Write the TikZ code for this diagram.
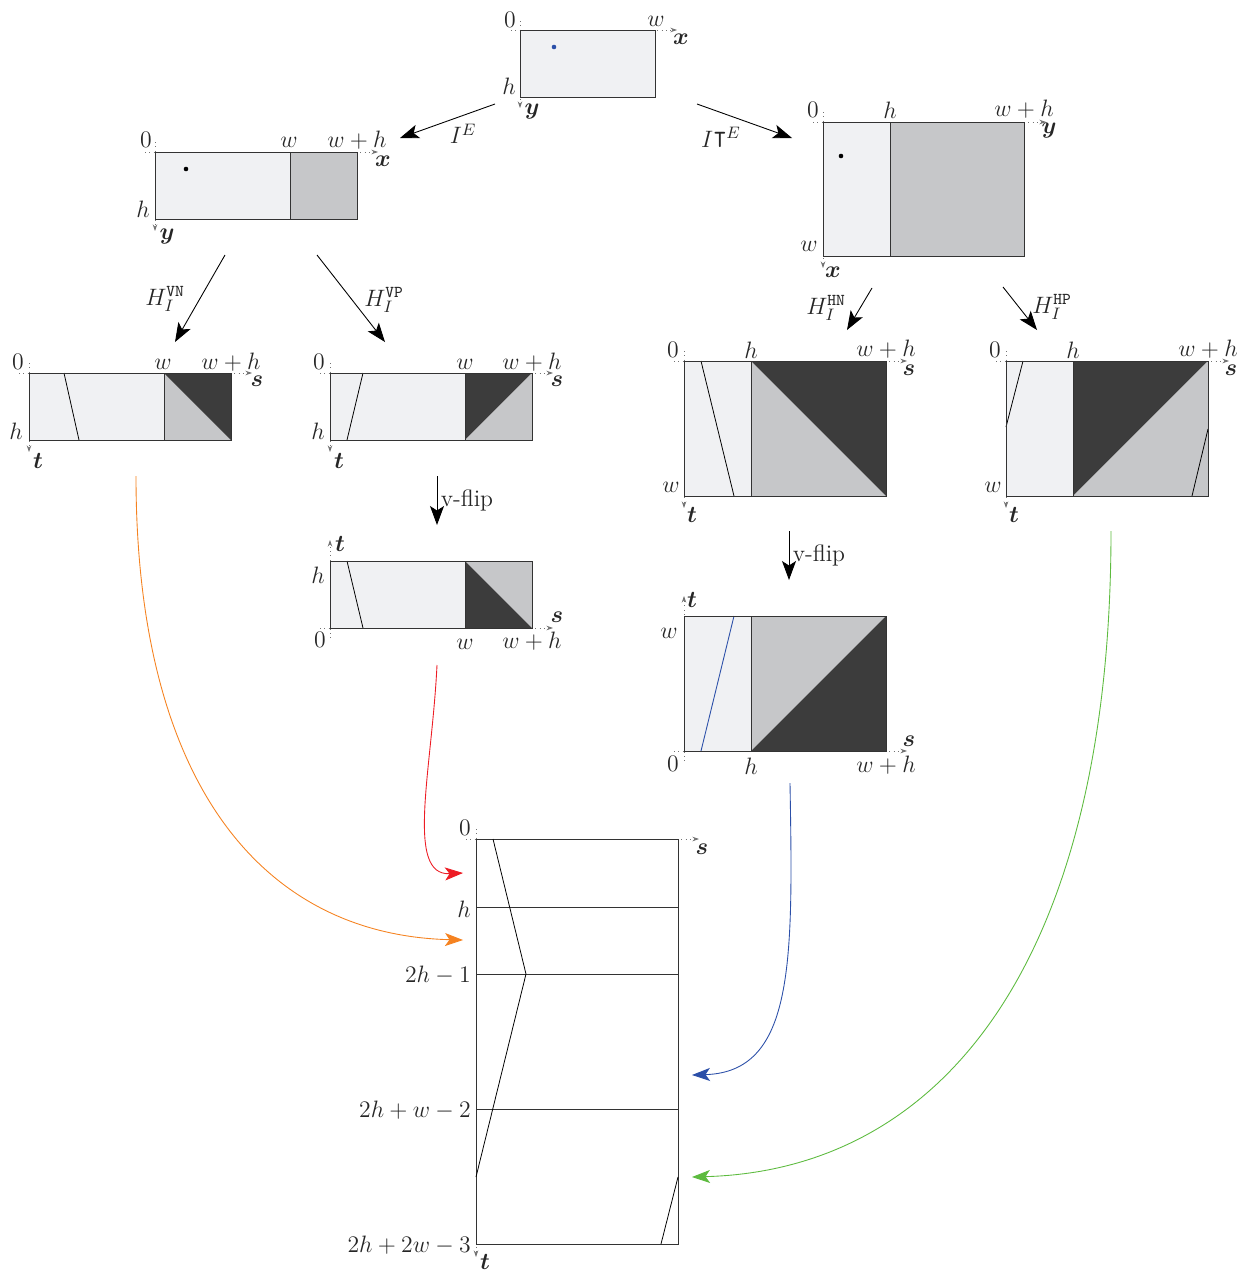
\RequirePackage{fix-cm}
\documentclass[tikz,border=0pt]{standalone}
\usepackage{amsmath,amssymb,bm}
\usetikzlibrary{arrows.meta}
\definecolor{lightc}{HTML}{F0F1F3}
\definecolor{midc}{HTML}{C6C7C9}
\definecolor{darkc}{HTML}{3C3C3C}
\definecolor{edgec}{HTML}{333333}
\definecolor{orangec}{HTML}{F58220}
\definecolor{redc}{HTML}{ED1C24}
\definecolor{bluec}{HTML}{2B4FA8}
\definecolor{greenc}{HTML}{5DBB3F}
\tikzset{
  boxline/.style={draw=edgec, line width=0.45pt},
  axisline/.style={draw=black!55, dotted, line width=0.45pt, -{Stealth[length=1.3mm,width=0.9mm]}},
  thinline/.style={draw=black, line width=0.45pt},
  lbl/.style={text=black!85, inner sep=0pt},
  maparrow/.style={draw=black, line width=0.5pt, -{Stealth[length=3.8mm,width=2.8mm,inset=0.9mm]}},
  curvearrow/.style={line width=0.5pt, -{Stealth[length=3.6mm,width=2.6mm,inset=0.9mm]}},
}
\begin{document}
\begin{tikzpicture}[x=0.2mm,y=-0.2mm, font=\fontsize{13.5}{16}\selectfont]
\useasboundingbox (0,0) rectangle (1250,1273);

% ---------- top box ----------
\fill[lightc] (520,30) rectangle (655,97);
\draw[axisline] (511,30) -- (677,30);
\draw[axisline] (520,21) -- (520,108);
\draw[boxline] (520,30) rectangle (655,97);
\fill[bluec] (554,47) circle (1.3pt);
\node[lbl] (t0) at (510,20) {$0$};
\node[lbl] (tw) at (656,21) {$w$};
\node[lbl] (tx) at (681,39) {$\bm{x}$};
\node[lbl] (th) at (509,86) {$h$};
\node[lbl] (ty) at (532,112) {$\bm{y}$};

% ---------- left box (I^E) ----------
\fill[lightc] (155,152) rectangle (290,219);
\fill[midc] (290,152) rectangle (357,219);
\draw[axisline] (145,152) -- (378,152);
\draw[axisline] (155,142) -- (155,231);
\draw[boxline] (155,152) rectangle (357,219);
\draw[boxline] (290,152) -- (290,219);
\fill[black] (186,169) circle (1.3pt);
\node[lbl] (l0) at (146,140) {$0$};
\node[lbl] (lw) at (289,142) {$w$};
\node[lbl] (lwh) at (357,140) {$w+h$};
\node[lbl] (lx) at (383,161) {$\bm{x}$};
\node[lbl] (lh) at (143,209) {$h$};
\node[lbl] (ly) at (167,237) {$\bm{y}$};

% ---------- right box (I^T E) ----------
\fill[lightc] (823,122) rectangle (890,256);
\fill[midc] (890,122) rectangle (1024,256);
\draw[axisline] (813,122) -- (1046,122);
\draw[axisline] (823,112) -- (823,268);
\draw[boxline] (823,122) rectangle (1024,256);
\draw[boxline] (890,122) -- (890,256);
\fill[black] (841,156) circle (1.3pt);
\node[lbl] (r0) at (813,110) {$0$};
\node[lbl] (rh) at (890,110) {$h$};
\node[lbl] (rwh) at (1024,109) {$w+h$};
\node[lbl] (ry) at (1049,131) {$\bm{y}$};
\node[lbl] (rw) at (809,246) {$w$};
\node[lbl] (rx) at (833,272) {$\bm{x}$};

% ---------- arrows from top ----------
\coordinate (aIEs) at (495,104); \coordinate (aIEe) at (400,138);
\draw[maparrow] (aIEs) -- (aIEe);
\node[lbl] (lIE) at (463,134) {$I^{E}$};
\coordinate (aITs) at (697,104); \coordinate (aITe) at (792,138);
\draw[maparrow] (aITs) -- (aITe);
\node[lbl] (lIT) at (721,137) {$I\mathord{\raisebox{0.45ex}{$\intercal$}}^{E}$};

% ---------- H arrows ----------
\coordinate (aVNs) at (225,255); \coordinate (aVNe) at (175,342);
\draw[maparrow] (aVNs) -- (aVNe);
\node[lbl] (lVN) at (165,299) {$H_I^{\mathtt{VN}}$};
\coordinate (aVPs) at (317,255); \coordinate (aVPe) at (385,342);
\draw[maparrow] (aVPs) -- (aVPe);
\node[lbl] (lVP) at (384,300) {$H_I^{\mathtt{VP}}$};
\coordinate (aHNs) at (872,288); \coordinate (aHNe) at (847,330);
\draw[maparrow] (aHNs) -- (aHNe);
\node[lbl] (lHN) at (826,308) {$H_I^{\mathtt{HN}}$};
\coordinate (aHPs) at (1003,287); \coordinate (aHPe) at (1037,330);
\draw[maparrow] (aHPs) -- (aHPe);
\node[lbl] (lHP) at (1052,307) {$H_I^{\mathtt{HP}}$};

% ---------- VN box ----------
\fill[lightc] (29,373) rectangle (164,440);
\fill[midc] (164,373) -- (164,440) -- (231,440) -- cycle;
\fill[darkc] (164,373) -- (231,373) -- (231,440) -- cycle;
\draw[thinline] (64,373) -- (79,440);
\draw[axisline] (19,373) -- (252,373);
\draw[axisline] (29,363) -- (29,452);
\draw[boxline] (29,373) rectangle (231,440);
\draw[boxline] (164,373) -- (164,440);
\node[lbl] (a0) at (18,362) {$0$};
\node[lbl] (aw) at (163,364) {$w$};
\node[lbl] (awh) at (231,362) {$w+h$};
\node[lbl] (as) at (257,381) {$\bm{s}$};
\node[lbl] (ah) at (16,431) {$h$};
\node[lbl] (at) at (38,461) {$\bm{t}$};

% ---------- VP box ----------
\fill[lightc] (330,373) rectangle (465,440);
\fill[darkc] (465,373) -- (532,373) -- (465,440) -- cycle;
\fill[midc] (532,373) -- (532,440) -- (465,440) -- cycle;
\draw[thinline] (363,373) -- (347,440);
\draw[axisline] (320,373) -- (553,373);
\draw[axisline] (330,363) -- (330,452);
\draw[boxline] (330,373) rectangle (532,440);
\draw[boxline] (465,373) -- (465,440);
\node[lbl] (b0) at (319,362) {$0$};
\node[lbl] (bw) at (465,364) {$w$};
\node[lbl] (bwh) at (532,362) {$w+h$};
\node[lbl] (bs) at (557,381) {$\bm{s}$};
\node[lbl] (bh) at (318,431) {$h$};
\node[lbl] (bt) at (339,461) {$\bm{t}$};

% v-flip 1
\coordinate (f1s) at (437,476); \coordinate (f1e) at (437,525);
\draw[maparrow] (f1s) -- (f1e);
\node[lbl] (lf1) at (467,500) {v-flip};

% ---------- VP flipped box ----------
\fill[lightc] (330,561) rectangle (465,628);
\fill[midc] (465,561) -- (532,561) -- (532,628) -- cycle;
\fill[darkc] (465,561) -- (465,628) -- (532,628) -- cycle;
\draw[thinline] (347,561) -- (363,628);
\draw[axisline] (320,628) -- (553,628);
\draw[axisline] (330,638) -- (330,540);
\draw[boxline] (330,561) rectangle (532,628);
\draw[boxline] (465,561) -- (465,628);
\node[lbl] (c0) at (320,640) {$0$};
\node[lbl] (cw) at (465,644) {$w$};
\node[lbl] (cwh) at (532,641) {$w+h$};
\node[lbl] (cs) at (557,617) {$\bm{s}$};
\node[lbl] (ch) at (318,575) {$h$};
\node[lbl] (ct) at (340,544) {$\bm{t}$};

% ---------- HN box ----------
\fill[lightc] (684,361) rectangle (751,496);
\fill[midc] (751,361) -- (751,496) -- (886,496) -- cycle;
\fill[darkc] (751,361) -- (886,361) -- (886,496) -- cycle;
\draw[thinline] (701,361) -- (734,496);
\draw[axisline] (674,361) -- (907,361);
\draw[axisline] (684,351) -- (684,508);
\draw[boxline] (684,361) rectangle (886,496);
\draw[boxline] (751,361) -- (751,496);
\node[lbl] (d0) at (673,350) {$0$};
\node[lbl] (dh) at (751,350) {$h$};
\node[lbl] (dwh) at (886,349) {$w+h$};
\node[lbl] (ds) at (909,370) {$\bm{s}$};
\node[lbl] (dw) at (671,487) {$w$};
\node[lbl] (dt) at (692,515) {$\bm{t}$};

% ---------- HP box ----------
\fill[lightc] (1006,361) rectangle (1073,496);
\fill[darkc] (1073,361) -- (1208,361) -- (1073,496) -- cycle;
\fill[midc] (1208,361) -- (1208,496) -- (1073,496) -- cycle;
\draw[thinline] (1023,361) -- (1006,427);
\draw[thinline] (1208,429) -- (1192,496);
\draw[axisline] (996,361) -- (1229,361);
\draw[axisline] (1006,351) -- (1006,508);
\draw[boxline] (1006,361) rectangle (1208,496);
\draw[boxline] (1073,361) -- (1073,496);
\node[lbl] (e0) at (995,350) {$0$};
\node[lbl] (eh) at (1073,350) {$h$};
\node[lbl] (ewh) at (1208,349) {$w+h$};
\node[lbl] (es) at (1231,370) {$\bm{s}$};
\node[lbl] (ew) at (993,487) {$w$};
\node[lbl] (et) at (1014,515) {$\bm{t}$};

% v-flip 2
\coordinate (f2s) at (789,531); \coordinate (f2e) at (789,580);
\draw[maparrow] (f2s) -- (f2e);
\node[lbl] (lf2) at (819,555) {v-flip};

% ---------- HN flipped box ----------
\fill[lightc] (684,616) rectangle (751,751);
\fill[midc] (751,616) -- (886,616) -- (751,751) -- cycle;
\fill[darkc] (886,616) -- (886,751) -- (751,751) -- cycle;
\draw[draw=bluec, line width=0.5pt] (701,751) -- (734,616);
\draw[axisline] (674,751) -- (907,751);
\draw[axisline] (684,761) -- (684,596);
\draw[boxline] (684,616) rectangle (886,751);
\draw[boxline] (751,616) -- (751,751);
\node[lbl] (g0) at (673,764) {$0$};
\node[lbl] (gh) at (751,766) {$h$};
\node[lbl] (gwh) at (886,765) {$w+h$};
\node[lbl] (gs) at (909,741) {$\bm{s}$};
\node[lbl] (gw) at (669,633) {$w$};
\node[lbl] (gt) at (692,600) {$\bm{t}$};

% ---------- bottom box ----------
\draw[axisline] (466,839) -- (699,839);
\draw[axisline] (476,829) -- (476,1257);
\draw[boxline] (476,839) rectangle (678,1244);
\draw[boxline] (476,907) -- (678,907);
\draw[boxline] (476,974) -- (678,974);
\draw[boxline] (476,1109) -- (678,1109);
\draw[thinline] (493,839) -- (526,974) -- (476,1177);
\draw[thinline] (678,1177) -- (661,1244);
\node[lbl] (z0) at (465,828) {$0$};
\node[lbl] (zh) at (464,909) {$h$};
\node[lbl, anchor=east] (z1) at (471,975) {$2h-1$};
\node[lbl, anchor=east] (z2) at (471,1110) {$2h+w-2$};
\node[lbl, anchor=east] (z3) at (471,1245) {$2h+2w-3$};
\node[lbl] (zs) at (702,849) {$\bm{s}$};
\node[lbl] (zt) at (485,1262) {$\bm{t}$};

% ---------- coloured curves ----------
\coordinate (oS) at (136,476); \coordinate (oE) at (463,940);
\draw[curvearrow, draw=orangec] (oS) .. controls (136,780) and (260,935) .. (oE);
\coordinate (rS) at (437,665); \coordinate (rE) at (463,873);
\draw[curvearrow, draw=redc] (rS) .. controls (432,770) and (405,876) .. (rE);
\coordinate (bS) at (790,783); \coordinate (bE) at (692,1075);
\draw[curvearrow, draw=bluec] (bS) .. controls (793,960) and (795,1072) .. (bE);
\coordinate (gS) at (1111,531); \coordinate (gE) at (692,1177);
\draw[curvearrow, draw=greenc] (gS) .. controls (1111,950) and (950,1170) .. (gE);
\end{tikzpicture}
\end{document}
